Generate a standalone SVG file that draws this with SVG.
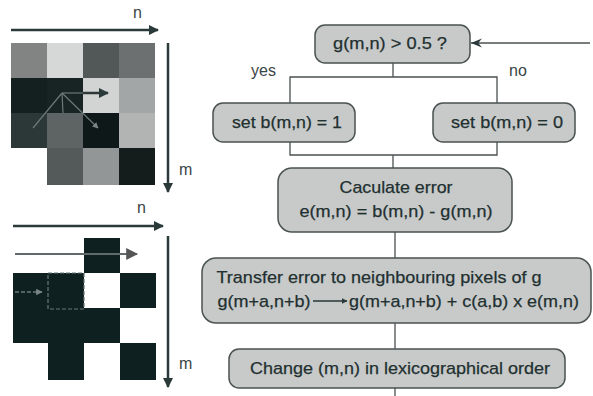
<svg xmlns="http://www.w3.org/2000/svg" width="593" height="396" viewBox="0 0 593 396">
<defs>
<style>
.box{fill:#c8caca;stroke:#4a5252;stroke-width:1.5}
.t{font-family:"Liberation Sans",Arial,sans-serif;font-size:17px;fill:#223030;stroke:#223030;stroke-width:0.25;text-anchor:middle}
.lbl{font-family:"Liberation Sans",Arial,sans-serif;font-size:16px;fill:#3a4444}
.ln{stroke:#4a5050;stroke-width:1.3;fill:none}
.ax{stroke:#2a3a3a;stroke-width:2.5;fill:none}
.blk{fill:#0f2020}
</style>
<marker id="ah" viewBox="0 0 10 10" refX="9" refY="5" markerWidth="4" markerHeight="4" orient="auto"><path d="M0,0L10,5L0,10z" fill="#2a3a3a"/></marker>
<marker id="ahs" viewBox="0 0 10 10" refX="9" refY="5" markerWidth="6" markerHeight="6" orient="auto"><path d="M0,0L10,5L0,10z" fill="#555"/></marker>
<marker id="ahg" viewBox="0 0 10 10" refX="9" refY="5" markerWidth="5" markerHeight="5" orient="auto"><path d="M0,0L10,5L0,10z" fill="#7a8686"/></marker>
<marker id="ahin" viewBox="0 0 12 10" refX="12" refY="5" markerWidth="9" markerHeight="7" orient="auto"><path d="M0,0L12,5L0,10L4,5z" fill="#2a3a3a"/></marker>
</defs>

<g id="grid-gray">
<rect x="11" y="43" width="36" height="35" fill="#828484"/>
<rect x="47" y="43" width="36" height="35" fill="#d6d8d8"/>
<rect x="83" y="43" width="36" height="35" fill="#525858"/>
<rect x="119" y="43" width="36" height="35" fill="#6c7070"/>
<rect x="11" y="78" width="36" height="35" fill="#142020"/>
<rect x="47" y="78" width="36" height="35" fill="#182424"/>
<rect x="83" y="78" width="36" height="35" fill="#d2d4d4"/>
<rect x="119" y="78" width="36" height="35" fill="#a2a6a6"/>
<rect x="11" y="113" width="36" height="35" fill="#2c3838"/>
<rect x="47" y="113" width="36" height="35" fill="#5e6464"/>
<rect x="83" y="113" width="36" height="35" fill="#0e1818"/>
<rect x="119" y="113" width="36" height="35" fill="#b2b4b4"/>
<rect x="47" y="148" width="36" height="37" fill="#545a5a"/>
<rect x="83" y="148" width="36" height="37" fill="#929696"/>
<rect x="119" y="148" width="36" height="37" fill="#141c1c"/>
<g stroke="#6a7878" stroke-width="1.2" fill="none">
<line x1="62" y1="93" x2="33" y2="128"/>
<line x1="62" y1="93" x2="63" y2="113"/>
<line x1="62" y1="93" x2="98" y2="128" marker-end="url(#ahg)"/>
<line x1="62" y1="93" x2="83" y2="93"/>
</g>
<line x1="83" y1="93" x2="108" y2="93" stroke="#2e3838" stroke-width="2.5" marker-end="url(#ah)"/>
<line x1="11" y1="30" x2="158" y2="30" class="ax" marker-end="url(#ah)"/>
<line x1="168" y1="43" x2="168" y2="192" class="ax" marker-end="url(#ah)"/>
<text class="lbl" x="133" y="18">n</text>
<text class="lbl" x="179" y="175">m</text>
</g>

<g id="grid-binary">
<rect class="blk" x="84" y="238" width="36" height="35"/>
<rect class="blk" x="13" y="273" width="71" height="35"/>
<rect class="blk" x="120" y="273" width="36" height="35"/>
<rect class="blk" x="13" y="308" width="107" height="35"/>
<rect class="blk" x="48" y="343" width="36" height="37"/>
<rect class="blk" x="120" y="343" width="36" height="37"/>
<rect x="48" y="273" width="36" height="36" fill="none" stroke="#6a7878" stroke-width="1.2" stroke-dasharray="4,2"/>
<line x1="15" y1="254" x2="137" y2="254" stroke="#606a6a" stroke-width="2" marker-end="url(#ahs)"/>
<line x1="15" y1="292" x2="42" y2="292" stroke="#6a7878" stroke-width="1.3" stroke-dasharray="4,2" marker-end="url(#ahg)"/>
<line x1="13" y1="226" x2="163" y2="226" class="ax" marker-end="url(#ah)"/>
<line x1="168" y1="236" x2="168" y2="387" class="ax" marker-end="url(#ah)"/>
<text class="lbl" x="137" y="213">n</text>
<text class="lbl" x="179" y="369">m</text>
</g>

<g id="connectors">
<line class="ln" x1="590" y1="43" x2="471" y2="43" marker-end="url(#ahin)"/>
<polyline class="ln" points="393,63 393,77"/>
<polyline class="ln" points="290,103 290,77 497,77 497,103"/>
<polyline class="ln" points="290,142 290,155 497,155 497,142"/>
<line class="ln" x1="393" y1="155" x2="393" y2="168"/>
<line class="ln" x1="395" y1="232" x2="395" y2="258"/>
<line class="ln" x1="395" y1="323" x2="395" y2="349"/>
<line class="ln" x1="395" y1="388" x2="395" y2="396"/>
<text class="lbl" x="251" y="76">yes</text>
<text class="lbl" x="509" y="76">no</text>
</g>

<g id="node-decision">
<rect class="box" x="315" y="25" width="155" height="38" rx="10"/>
<text class="t" x="390" y="49" textLength="114" lengthAdjust="spacingAndGlyphs">g(m,n) &gt; 0.5 ?</text>
</g>
<g id="node-set1">
<rect class="box" x="213" y="103" width="142" height="39" rx="10"/>
<text class="t" x="287" y="128" textLength="110" lengthAdjust="spacingAndGlyphs">set b(m,n) = 1</text>
</g>
<g id="node-set0">
<rect class="box" x="433" y="103" width="142" height="39" rx="10"/>
<text class="t" x="507" y="128" textLength="112" lengthAdjust="spacingAndGlyphs">set b(m,n) = 0</text>
</g>
<g id="node-error">
<rect class="box" x="278" y="168" width="234" height="64" rx="14"/>
<text class="t" x="396" y="193" textLength="113" lengthAdjust="spacingAndGlyphs">Caculate error</text>
<text class="t" x="396" y="217" textLength="193" lengthAdjust="spacingAndGlyphs">e(m,n) = b(m,n) - g(m,n)</text>
</g>
<g id="node-transfer">
<rect class="box" x="202" y="258" width="389" height="65" rx="14"/>
<text class="t" x="379" y="283" textLength="325" lengthAdjust="spacingAndGlyphs">Transfer error to neighbouring pixels of g</text>
<text class="t" x="264" y="307" textLength="93" lengthAdjust="spacingAndGlyphs">g(m+a,n+b)</text>
<line x1="313" y1="301" x2="347" y2="301" stroke="#2a3636" stroke-width="1.4" marker-end="url(#ah)"/>
<text class="t" x="464" y="307" textLength="230" lengthAdjust="spacingAndGlyphs">g(m+a,n+b) + c(a,b) x e(m,n)</text>
</g>
<g id="node-change">
<rect class="box" x="229" y="349" width="336" height="39" rx="10"/>
<text class="t" x="400" y="374" textLength="300" lengthAdjust="spacingAndGlyphs">Change (m,n) in lexicographical order</text>
</g>
</svg>
